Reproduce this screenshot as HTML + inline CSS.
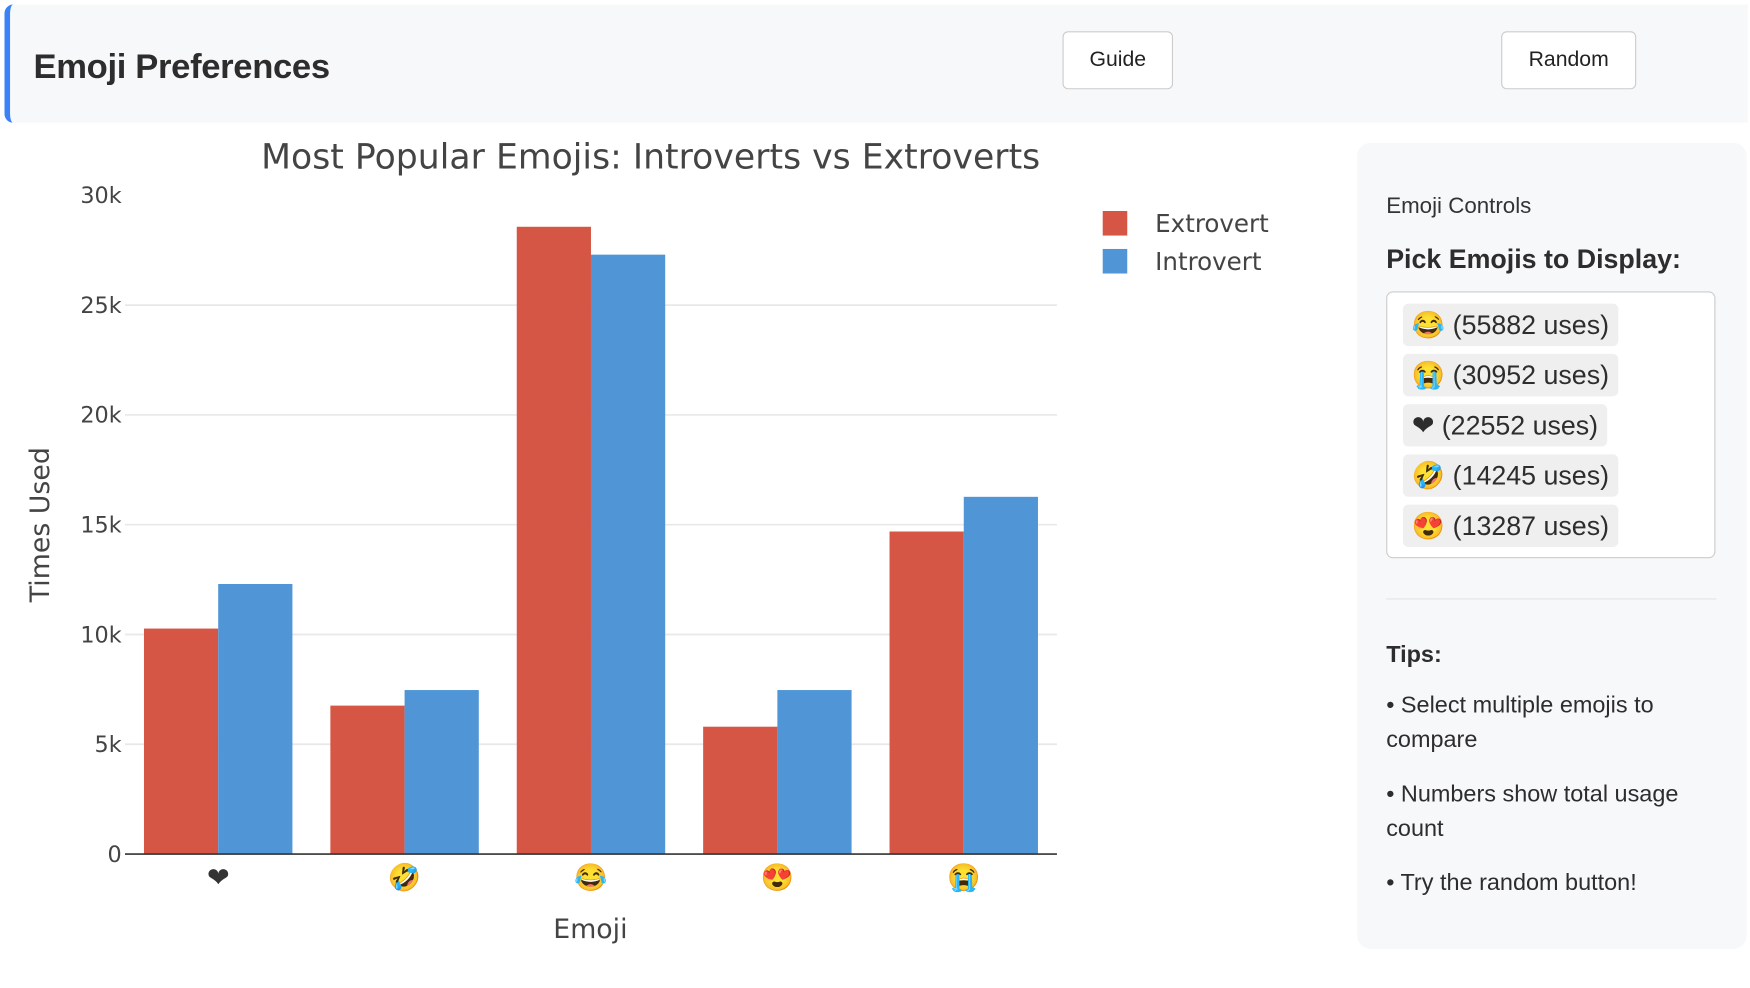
<!DOCTYPE html>
<html><head><meta charset="utf-8">
<style>
html,body{margin:0;padding:0;background:#fff;overflow:hidden;width:1750px;height:988px}
#wrap{position:absolute;left:0;top:0;width:1568px;height:885px;transform:scale(1.1161,1.1164);transform-origin:0 0;font-family:"Liberation Sans","Noto Sans CJK SC",sans-serif;color:#333}
.hdr{position:absolute;left:4px;top:4px;width:1557px;height:106px;background:#f7f8fa;border-left:5px solid #3b82f6;border-radius:8px 0 0 8px}
.hdr h1{position:absolute;left:21px;top:38px;margin:0;font-size:31px;font-weight:bold;color:#2d2d2d;letter-spacing:-0.3px}
.btn{position:absolute;top:28px;height:50px;background:#fff;border:1.5px solid #ccc;border-radius:5px;font-size:19px;color:#222;display:flex;align-items:center;justify-content:center}
.side{position:absolute;left:1216px;top:128px;width:349px;height:722px;background:#f7f8fa;border-radius:12px}
.side .t1{position:absolute;left:26px;top:46px;font-size:20px;color:#333}
.side .t2{position:absolute;left:26px;top:91px;font-size:24px;font-weight:bold;color:#2d2d2d}
.box{position:absolute;left:26px;top:133px;width:293px;height:237px;background:#fff;border:1.5px solid #ccc;border-radius:6px}
.chip{position:absolute;left:14px;height:38px;background:#efefef;border-radius:5px;font-size:24px;display:flex;align-items:center;padding:0 8px;color:#2d2d2d}
.hr{position:absolute;left:26px;top:408px;width:296px;height:1px;background:#e5e5e5}
.tip{position:absolute;left:26px;font-size:21px;line-height:31px;color:#2d2d2d;width:295px}
</style></head><body>
<div id="wrap">
<div class="hdr">
<h1>Emoji Preferences</h1>
</div>
<div class="btn" style="left:952px;width:97px">Guide</div>
<div class="btn" style="left:1345px;width:119px">Random</div>

<svg id="chart" style="position:absolute;left:0;top:115px" width="1200" height="760"></svg>

<div class="side">
<div class="t1">Emoji Controls</div>
<div class="t2">Pick Emojis to Display:</div>
<div class="box">
<div class="chip" style="top:10px">😂 (55882 uses)</div>
<div class="chip" style="top:55px">😭 (30952 uses)</div>
<div class="chip" style="top:100px">❤ (22552 uses)</div>
<div class="chip" style="top:145px">🤣 (14245 uses)</div>
<div class="chip" style="top:190px">😍 (13287 uses)</div>
</div>
<div class="hr"></div>
<div class="tip" style="top:443px;font-weight:bold">Tips:</div>
<div class="tip" style="top:488px">• Select multiple emojis to compare</div>
<div class="tip" style="top:568px">• Numbers show total usage count</div>
<div class="tip" style="top:647px">• Try the random button!</div>
</div>
</div>
<script>
const categories = ["❤","🤣","😂","😍","😭"];
const extrovert = [10270, 6760, 28570, 5800, 14690];
const introvert = [12300, 7470, 27300, 7470, 16270];
const yTicks = [0, 5000, 10000, 15000, 20000, 25000, 30000];
const yTickLabels = ["0","5k","10k","15k","20k","25k","30k"];
const seriesNames = ["Extrovert","Introvert"];
const seriesColors = ["#d65645","#5096d6"];

const svg = document.getElementById('chart');
const NS = 'http://www.w3.org/2000/svg';
const OY = 115;
const x0 = 112, x1 = 947, yBase = 765 - OY, yTop = 175 - OY, yMax = 30000;
function yScale(v){ return yBase - (v / yMax) * (yBase - yTop); }
const band = (x1 - x0) / categories.length;
function xBand(i){ return x0 + i * band; }
function mk(tag, attrs, txt){ const e = document.createElementNS(NS, tag); for (const k in attrs) e.setAttribute(k, attrs[k]); if (txt !== undefined) e.textContent = txt; svg.appendChild(e); return e; }

yTicks.forEach((t, i) => {
  if (t > 0 && t < yMax) {
    const g = mk('line', {x1: x0, x2: x1, y1: yScale(t), y2: yScale(t), stroke: '#e8e8e8', 'stroke-width': 1.5});
    
    
  }
  const l = mk('text', {x: 109, y: yScale(t) + 7, 'text-anchor': 'end', 'font-size': 20, fill: '#444', 'font-family': 'DejaVu Sans, sans-serif'}, yTickLabels[i]);
  
  
});

const pad = 17, bw = (band - 2 * pad) / 2;
categories.forEach((c, i) => {
  [extrovert, introvert].forEach((s, j) => {
    const r = mk('rect', {x: xBand(i) + pad + j * bw, y: yScale(s[i]), width: bw, height: yBase - yScale(s[i]), fill: seriesColors[j]});
    
    
  });
  const t = mk('text', {x: xBand(i) + band / 2, y: 794 - OY, 'text-anchor': 'middle', 'font-size': 24, fill: '#333'}, c);
  
  
});

const ax = mk('line', {x1: x0, x2: x1, y1: yBase, y2: yBase, stroke: '#333', 'stroke-width': 1.5});



const title = mk('text', {x: 583, y: 151 - OY, 'text-anchor': 'middle', 'font-size': 31, fill: '#444', 'font-family': 'DejaVu Sans, sans-serif', textLength: 698}, 'Most Popular Emojis: Introverts vs Extroverts');



const xt = mk('text', {x: 529, y: 840 - OY, 'text-anchor': 'middle', 'font-size': 24, fill: '#444', 'font-family': 'DejaVu Sans, sans-serif'}, 'Emoji');



const yt = mk('text', {x: 0, y: 0, 'text-anchor': 'middle', 'font-size': 24, fill: '#444', 'font-family': 'DejaVu Sans, sans-serif', transform: 'translate(44,' + (470 - OY) + ') rotate(-90)'}, 'Times Used');



seriesNames.forEach((n, j) => {
  const ly = 200 - OY + j * 34;
  const r = mk('rect', {x: 988, y: ly - 11, width: 22, height: 22, fill: seriesColors[j]});
  
  
  const t = mk('text', {x: 1035, y: ly + 8, 'font-size': 22, fill: '#444', 'font-family': 'DejaVu Sans, sans-serif'}, n);
  
  
});
</script>
</body></html>
